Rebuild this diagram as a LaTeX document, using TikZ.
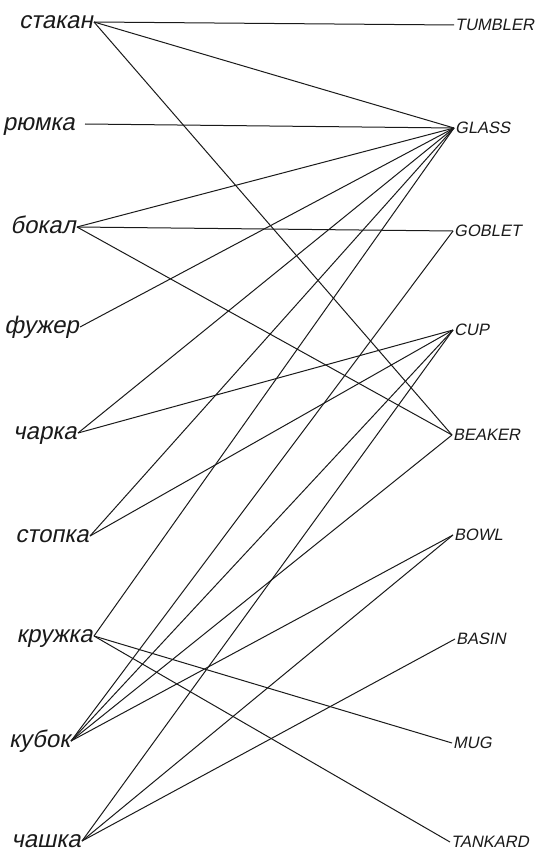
\documentclass[tikz,border=0pt]{standalone}
\usepackage{fontspec}
\newfontfamily\drawfont{Liberation Sans}[FakeSlant=0.2]
\usepackage{tikz}
\definecolor{ink}{HTML}{1A1A1A}
\tikzset{
  ru/.style={anchor=east,inner sep=1pt,text=ink,text height=12.5pt,text depth=0pt,
             font=\drawfont\fontsize{24}{24}\selectfont},
  en/.style={anchor=west,inner sep=1pt,text=ink,text height=11.8pt,text depth=0pt,
             font=\drawfont\fontsize{16.5}{16.5}\selectfont},
  ln/.style={line width=1pt,ink},
}
\begin{document}
\begin{tikzpicture}[x=1pt,y=-1pt]
    \useasboundingbox (0,0) rectangle (537,853);
    % russian words
    \node[ru] (stakan) at (94,22) {стакан};
    \node[ru] (rjumka) at (76,124) {рюмка};
    \node[ru] (bokal) at (77,227) {бокал};
    \node[ru] (fuzher) at (80,327) {фужер};
    \node[ru] (charka) at (78,433) {чарка};
    \node[ru] (stopka) at (90,536) {стопка};
    \node[ru] (kruzhka) at (94,636) {кружка};
    \node[ru] (kubok) at (71,741) {кубок};
    \node[ru] (chashka) at (82,841) {чашка};
    % english words
    \node[en] (tumbler) at (454,25) {TUMBLER};
    \node[en] (glass) at (454,128) {GLASS};
    \node[en] (goblet) at (453,231) {GOBLET};
    \node[en] (cup) at (453,330) {CUP};
    \node[en] (beaker) at (452,435) {BEAKER};
    \node[en] (bowl) at (453,535) {BOWL};
    \node[en] (basin) at (455,639) {BASIN};
    \node[en] (mug) at (452,743) {MUG};
    \node[en] (tankard) at (450,842) {TANKARD};
    % links
    \draw[ln](stakan.east)--(tumbler.west);
    \draw[ln](stakan.east)--(glass.west);
    \draw[ln](stakan.east)--(beaker.west);
    \draw[ln]([xshift=9pt]rjumka.east)--(glass.west);
    \draw[ln](bokal.east)--(glass.west);
    \draw[ln](bokal.east)--(goblet.west);
    \draw[ln](bokal.east)--(beaker.west);
    \draw[ln](fuzher.east)--(glass.west);
    \draw[ln](charka.east)--(glass.west);\draw[ln](charka.east)--(cup.west);
    \draw[ln](stopka.east)--(glass.west);\draw[ln](stopka.east)--(cup.west);
    \draw[ln](kruzhka.east)--(glass.west);
    \draw[ln](kruzhka.east)--(mug.west);
    \draw[ln](kruzhka.east)--(tankard.west);
    \draw[ln](kubok.east)--(goblet.west);\draw[ln](kubok.east)--(cup.west);
    \draw[ln](kubok.east)--(beaker.west);\draw[ln](kubok.east)--(bowl.west);
    \draw[ln](chashka.east)--(cup.west);
    \draw[ln](chashka.east)--(bowl.west);
    \draw[ln](chashka.east)--(basin.west);
\end{tikzpicture}
\end{document}
